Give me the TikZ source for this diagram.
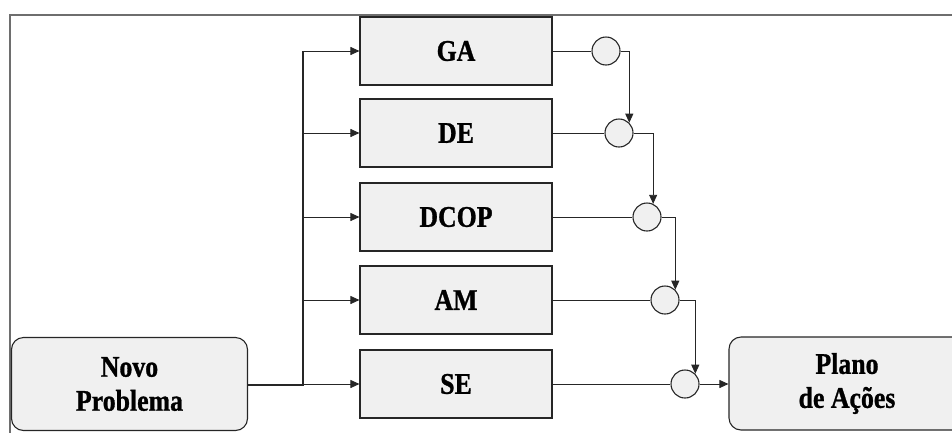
\documentclass[tikz,border=0pt]{standalone}
\usepackage{fontspec}
\newfontfamily\diagfont[FakeStretch=0.86,FakeBold=1]{Liberation Serif}
\usetikzlibrary{arrows.meta,positioning}

\begin{document}
\begin{tikzpicture}[x=1pt, y=-1pt, >={Triangle[length=9pt,width=8pt]}]
    % Colors
    \definecolor{boxFill}{HTML}{F0F0F0}
    \definecolor{edgeCol}{HTML}{262626}
    \definecolor{frameCol}{HTML}{6E6E6E}

    % Styles
    \tikzset{
        methodbox/.style={draw=edgeCol, line width=1.1pt, fill=boxFill,
            minimum width=192pt, minimum height=68pt, inner sep=0pt,
            font=\diagfont\bfseries\fontsize{30}{34}\selectfont},
        endbox/.style={methodbox, rounded corners=12pt, align=center,
            minimum width=236pt, minimum height=93pt},
        joint/.style={circle, draw=edgeCol, line width=1.1pt, fill=boxFill,
            minimum size=28pt, inner sep=0pt},
        link/.style={draw=edgeCol, line width=0.9pt}
    }

    \useasboundingbox (0,0) rectangle (952,432);

    % 1. Outer frame
    \draw[frameCol, line width=1.3pt] (10,440) -- (10,15) -- (960,15);

    % 2. Start and end blocks
    \node[endbox] (NP) at (129.5,384) {Novo\\Problema};
    \node[endbox] (PA) at (847,383.5) {Plano\\de Ações};

    % 3. Methods and their junctions
    \foreach \name/\txt/\y/\cx in {GA/GA/51/606, DE/DE/133/619, DCOP/DCOP/217/647, AM/AM/300/665, SE/SE/384/685} {
        \node[methodbox] (\name) at (456,\y) {\txt};
        \node[joint] (J\name) at (\cx,\y) {};
        \draw[link] (\name.east) -- (J\name.west);
    }

    % 4. Distribution trunk
    \coordinate (Tk) at (303,385);
    \draw[edgeCol, line width=1.6pt] (NP.east |- Tk) -- (Tk) -- (Tk |- GA.west);
    \foreach \name in {GA, DE, DCOP, AM, SE} {
        \draw[link, ->] (Tk |- \name.west) -- (\name.west);
    }

    % 5. Chain of junctions
    \draw[link, ->] (JGA.east) -| (JDE.north east);
    \draw[link, ->] (JDE.east) -| (JDCOP.65);
    \draw[link, ->] (JDCOP.east) -| (JAM.north east);
    \draw[link, ->] (JAM.east) -| (JSE.north east);
    \draw[link, ->] (JSE.east) -- (PA.west |- JSE.east);
\end{tikzpicture}
\end{document}
